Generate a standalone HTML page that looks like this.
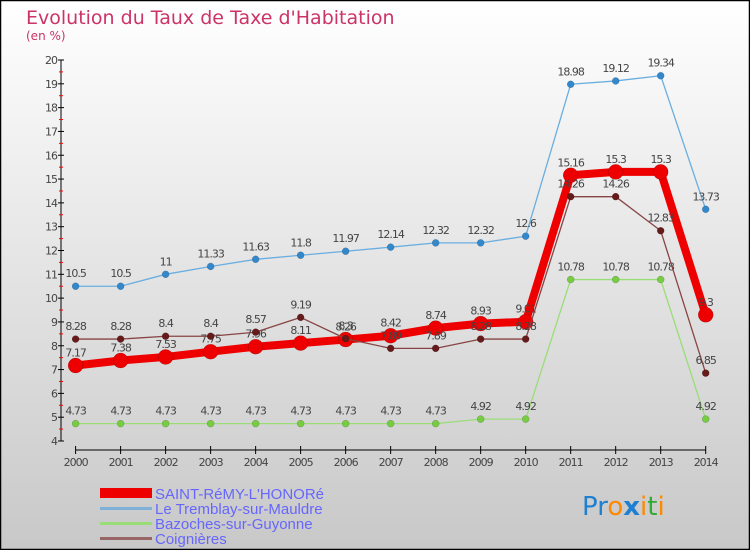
<!DOCTYPE html>
<html><head><meta charset="utf-8"><style>
body{margin:0}
#c{width:750px;height:550px;position:relative;overflow:hidden}
svg{display:block;font-family:"DejaVu Sans","Liberation Sans",sans-serif}
</style></head><body>
<div id="c">
<svg id="s" width="750" height="550" xmlns="http://www.w3.org/2000/svg">
<defs><linearGradient id="bg" x1="0" y1="0" x2="0" y2="1"><stop offset="0" stop-color="#ffffff"/><stop offset="1" stop-color="#c8c8c8"/></linearGradient></defs>
<rect x="0.5" y="0.5" width="749" height="549" fill="url(#bg)" stroke="#000" stroke-width="1.5"/>
<text x="26" y="24" font-size="19" fill="#cc3366">Evolution du Taux de Taxe d'Habitation</text>
<text x="26" y="40" font-size="12" fill="#cc3366">(en %)</text>
<g id="axes"></g><g id="series"></g>
<g font-family="Liberation Sans, sans-serif">
<rect x="100" y="488" width="52" height="10" fill="#ee0000"/>
<rect x="100" y="507" width="52" height="3" fill="#7fb0d8"/>
<rect x="100" y="522" width="52" height="3" fill="#99dd77"/>
<rect x="100" y="537" width="52" height="3" fill="#996666"/>
<text x="155" y="499" font-size="15" fill="#6666ff">SAINT-RéMY-L'HONORé</text>
<text x="155" y="514" font-size="15" fill="#6666ff">Le Tremblay-sur-Mauldre</text>
<text x="155" y="529" font-size="15" fill="#6666ff">Bazoches-sur-Guyonne</text>
<text x="155" y="544" font-size="15" fill="#6666ff">Coignières</text>
</g>
<text x="582" y="515" font-size="26"><tspan fill="#1f7fd0">Pr</tspan><tspan fill="#ff8800">o</tspan><tspan fill="#1f7fd0" font-weight="bold">x</tspan><tspan fill="#ff8800">i</tspan><tspan fill="#33aa33">t</tspan><tspan fill="#ff8800">i</tspan></text>
</svg></div>
<script>
const years=[2000,2001,2002,2003,2004,2005,2006,2007,2008,2009,2010,2011,2012,2013,2014];
const yTicks=[4,5,6,7,8,9,10,11,12,13,14,15,16,17,18,19,20];
const saintRemy=[7.17,7.38,7.53,7.75,7.96,8.11,8.26,8.42,8.74,8.93,9.01,15.16,15.3,15.3,9.3];
const tremblay=[10.5,10.5,11,11.33,11.63,11.8,11.97,12.14,12.32,12.32,12.6,18.98,19.12,19.34,13.73];
const bazoches=[4.73,4.73,4.73,4.73,4.73,4.73,4.73,4.73,4.73,4.92,4.92,10.78,10.78,10.78,4.92];
const coignieres=[8.28,8.28,8.4,8.4,8.57,9.19,8.3,7.89,7.89,8.28,8.28,14.26,14.26,12.83,6.85];
const NS="http://www.w3.org/2000/svg";
function X(i){return 75.6+i*(705.7-75.6)/(years.length-1);}
function Y(v){return 441-(v-4)*(441-60)/16;}
function mk(t,a,p){const e=document.createElementNS(NS,t);for(const k in a)e.setAttribute(k,a[k]);p.appendChild(e);return e;}
const ax=document.getElementById('axes');
let e=mk('line',{x1:61,y1:Y(20),x2:61,y2:Y(4),stroke:'#000','stroke-width':1},ax);


yTicks.forEach(v=>{
 let t=mk('line',{x1:58,x2:64,y1:Y(v),y2:Y(v),stroke:'#000'},ax);
 
 
 if(v<20){let m=mk('line',{x1:59,x2:63,y1:Y(v+0.5),y2:Y(v+0.5),stroke:'#f00'},ax);
 
 }
 let l=mk('text',{x:57,y:Y(v)+4,'text-anchor':'end','font-size':11,fill:'#444','letter-spacing':'-1'},ax);
 l.textContent=v;
 
 
});
e=mk('line',{x1:X(0),y1:450,x2:X(14),y2:450,stroke:'#000'},ax);


years.forEach((y,i)=>{
 let t=mk('line',{x1:X(i),x2:X(i),y1:446,y2:454,stroke:'#000'},ax);
 
 
 let l=mk('text',{x:X(i),y:466,'text-anchor':'middle','font-size':11,fill:'#444','letter-spacing':'-1'},ax);
 l.textContent=y;
 
 
});
const sg=document.getElementById('series');
function draw(name,vals,color,lw,r,dot){
 const g=mk('g',{},sg);
 
 
 let p=mk('polyline',{points:vals.map((v,i)=>X(i)+','+Y(v)).join(' '),fill:'none',stroke:color,'stroke-width':lw,'stroke-linejoin':'round'},g);
 
 
 vals.forEach((v,i)=>{
  let c=mk('circle',{cx:X(i),cy:Y(v),r:r,fill:dot,stroke:'rgba(0,0,0,0.25)','stroke-width':0.5},g);
  
  
  let l=mk('text',{x:X(i),y:Y(v)-9,'text-anchor':'middle','font-size':11,fill:'#444','letter-spacing':'-1'},g);
  l.textContent=String(v);
  
  
 });
}
draw('tremblay',tremblay,'#6aaee0',1.3,3.5,'#3388cc');
draw('bazoches',bazoches,'#99dd77',1.3,3.5,'#77cc44');
draw('saint-remy',saintRemy,'#ee0000',8,7.5,'#ee0000');
draw('coignieres',coignieres,'#884444',1.3,3.5,'#661a1a');
</script>
</body></html>
